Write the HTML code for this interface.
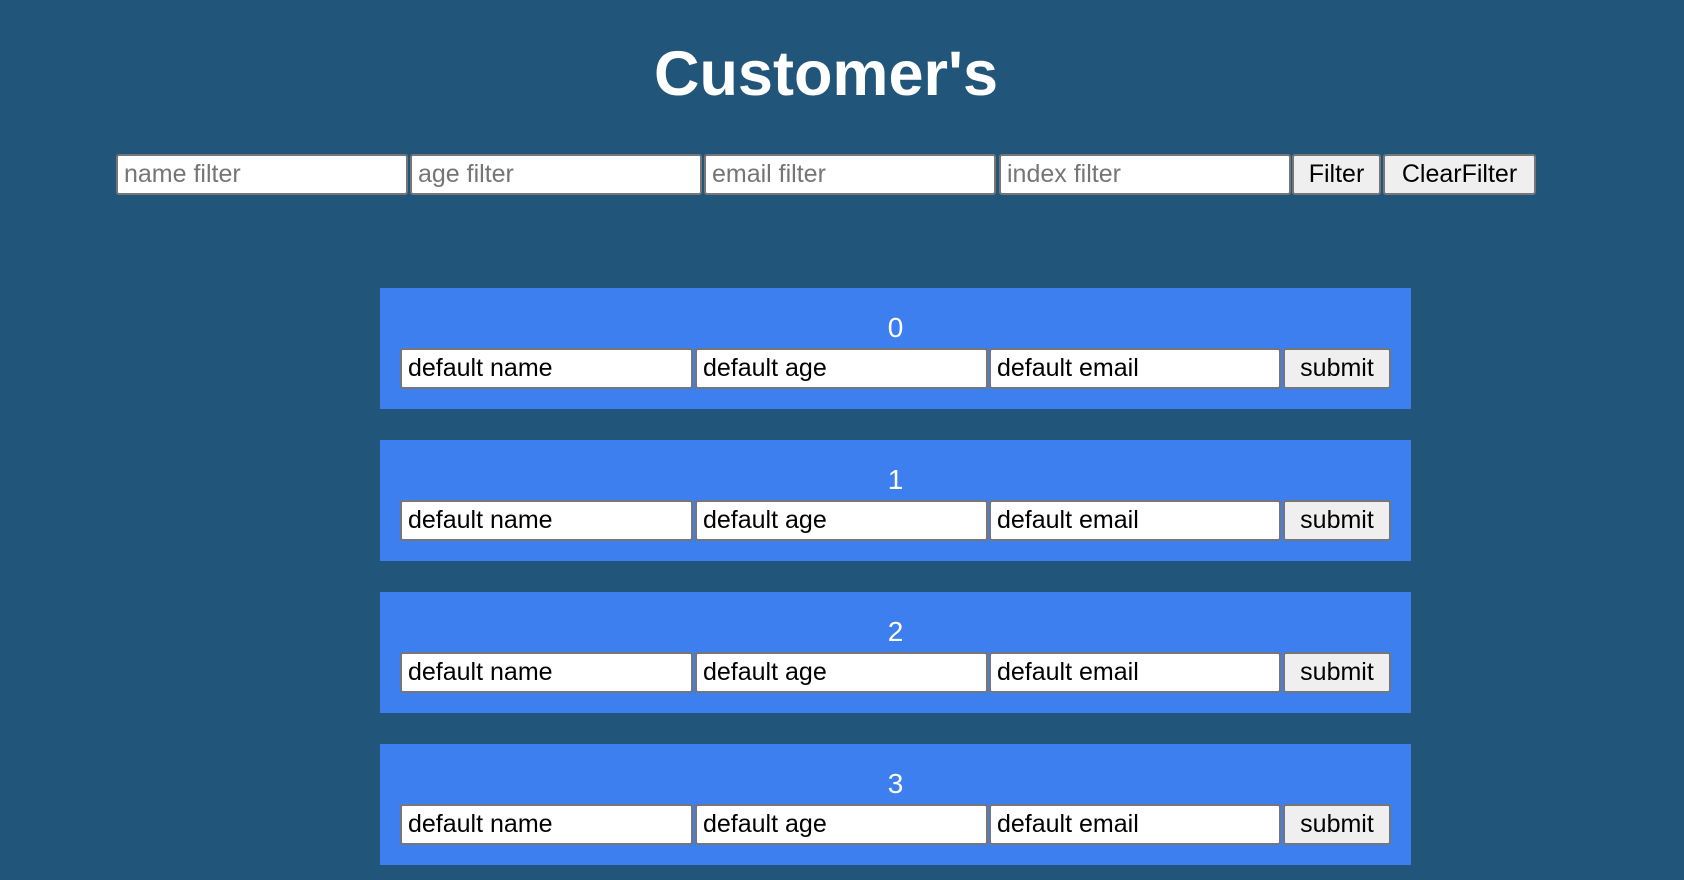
<!DOCTYPE html>
<html><head><meta charset="utf-8"><style>
body{margin:0;width:1684px;height:880px;background:#22557a;font-family:"Liberation Sans",sans-serif;position:relative;overflow:hidden}
h1{position:absolute;left:0;width:1652px;top:38px;margin:0;text-align:center;color:#fff;font-size:63px;font-weight:bold}
.i,.b{position:absolute;box-sizing:border-box;border:2px solid #767676;border-radius:3px;font-size:25px;padding:0 6px;display:flex;align-items:center;height:41px}
.i{background:#fff;color:#000}
.p{color:#757575}
.b{background:#efefef;justify-content:center;color:#000}
.c{position:absolute;left:380px;width:1031px;height:121px;background:#3d7fee}
.n{position:absolute;left:0;width:100%;top:24px;text-align:center;color:#fff;font-size:28px}
</style></head><body>
<h1>Customer's</h1>
<div class="i p" style="left:116px;top:154px;width:292px">name filter</div>
<div class="i p" style="left:410px;top:154px;width:292px">age filter</div>
<div class="i p" style="left:704px;top:154px;width:292px">email filter</div>
<div class="i p" style="left:999px;top:154px;width:292px">index filter</div>
<div class="b" style="left:1292px;top:154px;width:89px">Filter</div>
<div class="b" style="left:1383px;top:154px;width:153px">ClearFilter</div>

<div class="c" style="top:288px"><div class="n">0</div>
<div class="i" style="left:20px;top:60px;width:293px">default name</div>
<div class="i" style="left:315px;top:60px;width:293px">default age</div>
<div class="i" style="left:609px;top:60px;width:292px">default email</div>
<div class="b" style="left:903px;top:60px;width:108px">submit</div></div>

<div class="c" style="top:440px"><div class="n">1</div>
<div class="i" style="left:20px;top:60px;width:293px">default name</div>
<div class="i" style="left:315px;top:60px;width:293px">default age</div>
<div class="i" style="left:609px;top:60px;width:292px">default email</div>
<div class="b" style="left:903px;top:60px;width:108px">submit</div></div>

<div class="c" style="top:592px"><div class="n">2</div>
<div class="i" style="left:20px;top:60px;width:293px">default name</div>
<div class="i" style="left:315px;top:60px;width:293px">default age</div>
<div class="i" style="left:609px;top:60px;width:292px">default email</div>
<div class="b" style="left:903px;top:60px;width:108px">submit</div></div>

<div class="c" style="top:744px"><div class="n">3</div>
<div class="i" style="left:20px;top:60px;width:293px">default name</div>
<div class="i" style="left:315px;top:60px;width:293px">default age</div>
<div class="i" style="left:609px;top:60px;width:292px">default email</div>
<div class="b" style="left:903px;top:60px;width:108px">submit</div></div>
</body></html>
